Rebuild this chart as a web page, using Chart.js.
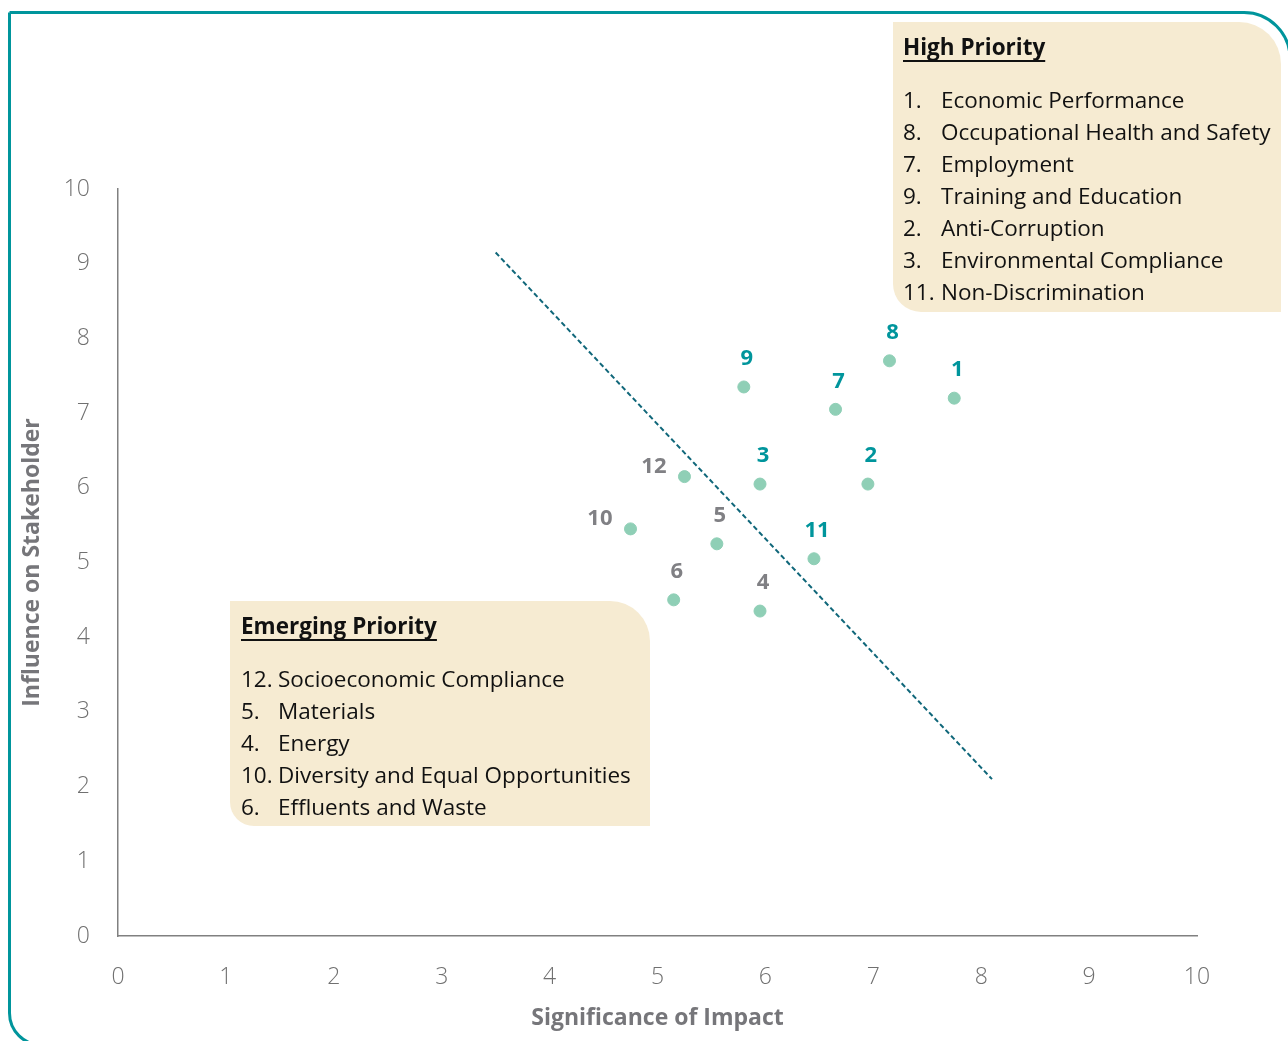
<!DOCTYPE html>
<html>
<head>
<meta charset="utf-8">
<title>Materiality Matrix</title>
<script src="https://cdn.jsdelivr.net/npm/chart.js@4/dist/chart.umd.min.js"></script>
<style>
  html, body { margin: 0; padding: 0; background: #ffffff; }
  #wrap { position: relative; width: 1288px; height: 1041px; }
  canvas { display: block; }
</style>
</head>
<body>
<div id="wrap"><canvas id="matrix" width="1288" height="1041"></canvas></div>
<script>
// Material topics: id, significance of impact (x), influence on stakeholder (y)
const topicIds      = [9, 8, 7, 1, 3, 2, 11, 12, 10, 5, 6, 4];
const impactValues  = [5.8, 7.15, 6.65, 7.75, 5.95, 6.95, 6.45, 5.25, 4.75, 5.55, 5.15, 5.95];
const influenceVals = [7.35, 7.7, 7.05, 7.2, 6.05, 6.05, 5.05, 6.15, 5.45, 5.25, 4.5, 4.35];
const highPriorityIds = [1, 8, 7, 9, 2, 3, 11];

// Threshold line separating the two priority groups
const thresholdX = [3.5, 8.1];
const thresholdY = [9.15, 2.1];

// Axis ticks
const tickValues = [0, 1, 2, 3, 4, 5, 6, 7, 8, 9, 10];

// Legend boxes
const highPriorityTitle = 'High Priority';
const highPriorityList = [
  ['1.', 'Economic Performance'],
  ['8.', 'Occupational Health and Safety'],
  ['7.', 'Employment'],
  ['9.', 'Training and Education'],
  ['2.', 'Anti-Corruption'],
  ['3.', 'Environmental Compliance'],
  ['11.', 'Non-Discrimination']
];
const emergingTitle = 'Emerging Priority';
const emergingList = [
  ['12.', 'Socioeconomic Compliance'],
  ['5.', 'Materials'],
  ['4.', 'Energy'],
  ['10.', 'Diversity and Equal Opportunities'],
  ['6.', 'Effluents and Waste']
];
// Topics whose number is written to the left of the dot
const leftLabelIds = [12, 10];

const FONT = '"Open Sans", "Noto Sans", sans-serif';
const TEAL = '#00959c';
const GREY_LABEL = '#808084';
const DOT = '#8fcfb6';
const BOX = '#f6ebd2';

const topicPoints = topicIds.map((id, i) => ({ x: impactValues[i], y: influenceVals[i], id }));
const linePoints = thresholdX.map((x, i) => ({ x, y: thresholdY[i] }));

function roundedShape(ctx, x, y, w, h, rTR, rBL) {
  ctx.beginPath();
  ctx.moveTo(x, y);
  ctx.lineTo(x + w - rTR, y);
  ctx.arcTo(x + w, y, x + w, y + rTR, rTR);
  ctx.lineTo(x + w, y + h);
  ctx.lineTo(x + rBL, y + h);
  ctx.arcTo(x, y + h, x, y + h - rBL, rBL);
  ctx.lineTo(x, y);
  ctx.closePath();
}

function drawList(ctx, x, titleY, title, items, firstY, step, textX) {
  ctx.save();
  ctx.fillStyle = '#111111';
  ctx.textBaseline = 'middle';
  ctx.textAlign = 'left';
  ctx.font = 'bold 22.5px ' + FONT;
  ctx.fillText(title, x, titleY);
  const tw = ctx.measureText(title).width;
  ctx.fillRect(x, titleY + 11, tw, 2);
  ctx.font = '22.5px ' + FONT;
  items.forEach((it, i) => {
    const yy = firstY + i * step;
    ctx.fillText(it[0], x, yy);
    ctx.fillText(it[1], textX, yy);
  });
  ctx.restore();
}

const backdrop = {
  id: 'backdrop',
  beforeDraw(chart) {
    const ctx = chart.ctx;
    ctx.save();
    ctx.fillStyle = '#ffffff';
    ctx.fillRect(0, 0, chart.width, chart.height);
    // outer frame
    ctx.strokeStyle = TEAL;
    ctx.lineWidth = 3;
    ctx.beginPath();
    const fx = 9.5, fy = 12.5, r = 46, rb = 32;
    ctx.moveTo(fx, fy);
    ctx.lineTo(1243, fy);
    ctx.arcTo(1288 + 2, fy, 1288 + 2, fy + r, r);
    ctx.moveTo(fx, fy);
    ctx.lineTo(fx, 1041 + 4 - rb);
    ctx.arcTo(fx, 1041 + 4, fx + rb, 1041 + 4, rb);
    ctx.stroke();
    // legend boxes
    ctx.fillStyle = BOX;
    roundedShape(ctx, 893, 22, 388, 290, 42, 28);
    ctx.fill();
    roundedShape(ctx, 230, 601, 420, 225, 40, 24);
    ctx.fill();
    ctx.restore();
  },
  afterDraw(chart) {
    const ctx = chart.ctx;
    drawList(ctx, 903, 49, highPriorityTitle, highPriorityList, 102, 32, 941);
    drawList(ctx, 241, 628, emergingTitle, emergingList, 681, 32, 278);
  }
};

const pointNumbers = {
  id: 'pointNumbers',
  afterDatasetsDraw(chart) {
    const ctx = chart.ctx;
    const meta = chart.getDatasetMeta(1);
    ctx.save();
    ctx.font = 'bold 22px ' + FONT;
    ctx.textBaseline = 'middle';
    meta.data.forEach((el, i) => {
      const id = topicIds[i];
      ctx.fillStyle = highPriorityIds.includes(id) ? TEAL : GREY_LABEL;
      if (leftLabelIds.includes(id)) {
        ctx.textAlign = 'right';
        ctx.fillText(String(id), el.x - 18, el.y - 10);
      } else {
        ctx.textAlign = 'center';
        ctx.fillText(String(id), el.x + 3, el.y - 28);
      }
    });
    ctx.restore();
  }
};

const tickFont = { family: FONT, size: 23, weight: '300' };
const titleFont = { family: FONT, size: 23, weight: 'bold' };

new Chart(document.getElementById('matrix'), {
  type: 'scatter',
  data: {
    datasets: [
      {
        type: 'line',
        data: linePoints,
        borderColor: '#10677a',
        borderWidth: 2,
        borderDash: [5, 3],
        pointRadius: 0,
        fill: false
      },
      {
        data: topicPoints,
        backgroundColor: DOT,
        borderColor: DOT,
        pointRadius: 6,
        pointHoverRadius: 6
      }
    ]
  },
  options: {
    responsive: false,
    animation: false,
    events: [],
    layout: { padding: { left: 10, top: 189, right: 91, bottom: 0 } },
    plugins: { legend: { display: false }, tooltip: { enabled: false } },
    scales: {
      x: {
        type: 'linear',
        min: 0, max: 10,
        afterBuildTicks(scale) { scale.ticks = tickValues.map(v => ({ value: v })); },
        afterFit(scale) { scale.height = 105; },
        grid: { display: false, drawTicks: false },
        border: { color: '#808080', width: 1.5 },
        ticks: { color: '#707070', font: tickFont, padding: 28, maxRotation: 0 },
        title: {
          display: true,
          text: 'Significance of Impact',
          color: '#76767a',
          font: titleFont,
          padding: { top: 0, bottom: 9 }
        }
      },
      y: {
        type: 'linear',
        min: 0, max: 10,
        afterBuildTicks(scale) { scale.ticks = tickValues.map(v => ({ value: v })); },
        afterFit(scale) { scale.width = 108; },
        grid: { display: false, drawTicks: false },
        border: { color: '#808080', width: 1.5 },
        ticks: { color: '#707070', font: tickFont, padding: 28 },
        title: {
          display: true,
          text: 'Influence on Stakeholder',
          color: '#76767a',
          font: titleFont,
          padding: { top: 9, bottom: 0 }
        }
      }
    }
  },
  plugins: [backdrop, pointNumbers]
});
</script>
</body>
</html>
